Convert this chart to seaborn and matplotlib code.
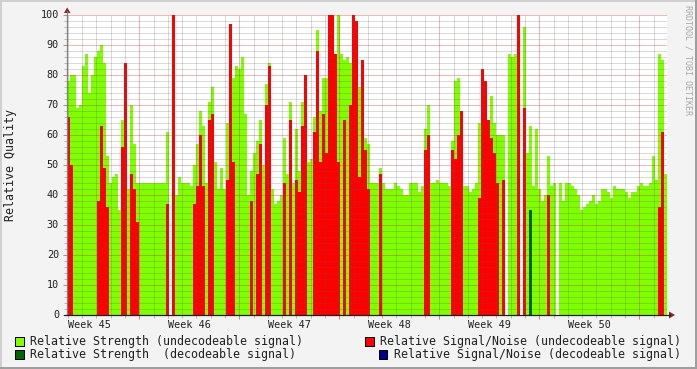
import numpy as np
import pandas as pd
import matplotlib
matplotlib.use("Agg")
import matplotlib.pyplot as plt
import seaborn as sns
from matplotlib.patches import Rectangle, Polygon
from matplotlib.lines import Line2D

# ---------------- data (one sample every 0.21 day, 6 weeks) ----------------
strength_undec = [
    78, 80, 80, 69, 70, 83, 87, 74, 80, 86, 88, 90, 84, 53, 44, 46, 47, 35, 65, 41,
    42, 70, 57, 44, 44, 44, 44, 44, 44, 44, 44, 44, 44, 61, 0, 40, 40, 46, 44, 44,
    44, 43, 50, 57, 68, 63, 44, 71, 76, 51, 42, 49, 42, 64, 81, 79, 83, 82, 86, 67,
    40, 48, 54, 58, 65, 50, 77, 84, 42, 37, 38, 40, 59, 47, 71, 44, 62, 48, 71, 76,
    51, 52, 66, 95, 68, 79, 79, 76, 84, 87, 100, 87, 85, 86, 84, 84, 80, 76, 60, 59,
    57, 44, 44, 44, 49, 44, 42, 42, 42, 44, 43, 42, 40, 40, 44, 44, 44, 41, 43, 62,
    70, 44, 44, 45, 44, 44, 44, 43, 58, 78, 79, 68, 43, 43, 41, 42, 44, 64, 80, 73,
    64, 73, 64, 60, 60, 60, 0, 87, 86, 87, 0, 0, 96, 54, 63, 43, 62, 42, 38, 40,
    53, 43, 44, 0, 44, 38, 44, 44, 43, 42, 40, 35, 36, 37, 38, 40, 37, 38, 42, 42,
    41, 39, 43, 42, 42, 42, 41, 39, 41, 41, 43, 44, 43, 43, 44, 53, 45, 87, 85, 47,
]
snr_undec = [
    66, 50, 0, 0, 0, 0, 0, 0, 0, 0, 38, 63, 49, 36, 0, 0, 0, 0, 56, 84,
    0, 47, 42, 31, 0, 0, 0, 0, 0, 0, 0, 0, 0, 37, 0, 100, 0, 0, 0, 0,
    0, 0, 37, 43, 60, 43, 0, 65, 67, 0, 0, 0, 0, 45, 97, 51, 0, 0, 0, 0,
    0, 38, 0, 47, 57, 0, 70, 83, 0, 0, 0, 0, 44, 0, 65, 0, 45, 41, 63, 80,
    0, 0, 61, 88, 51, 67, 54, 100, 100, 87, 51, 0, 65, 0, 70, 100, 98, 46, 85, 55,
    42, 0, 0, 0, 47, 0, 0, 0, 0, 0, 0, 0, 0, 0, 0, 0, 0, 0, 0, 55,
    60, 0, 0, 0, 0, 0, 0, 0, 55, 52, 60, 68, 0, 0, 0, 0, 0, 39, 82, 78,
    65, 59, 54, 44, 0, 45, 0, 0, 0, 0, 100, 0, 69, 0, 0, 0, 0, 0, 0, 0,
    40, 0, 0, 0, 0, 0, 0, 0, 0, 0, 0, 0, 0, 0, 0, 0, 0, 0, 0, 0,
    0, 0, 0, 0, 0, 0, 0, 0, 0, 0, 0, 0, 0, 0, 0, 0, 0, 36, 61, 0,
]
strength_dec_index = [154]
strength_dec_value = [35]
snr_dec_index = []
snr_dec_value = []

week_labels = ["Week 45", "Week 46", "Week 47", "Week 48", "Week 49", "Week 50"]
y_labels = ["0", "10", "20", "30", "40", "50", "60", "70", "80", "90", "100"]
legend_labels = [
    "Relative Strength (undecodeable signal)",
    "Relative Signal/Noise (undecodeable signal)",
    "Relative Strength  (decodeable signal)",
    "Relative Signal/Noise (decodeable signal)",
]

# ---------------- style ----------------
GREEN = "#7FFF00"
RED = "#FF0000"
DKGREEN = "#006400"
BLUE = "#000090"
BACK = "#F3F3F3"

sns.set_theme(style="white")
plt.rcParams["font.family"] = ["DejaVu Sans Mono"]

W, H, DPI = 697, 369, 100
fig = plt.figure(figsize=(W / DPI, H / DPI), dpi=DPI, facecolor=BACK)

L, R, T, B = 67, 667, 15, 315
ax = fig.add_axes([L / W, 1 - B / H, (R - L) / W, (B - T) / H])
ax.set_facecolor("white")

step = 0.21
n = len(strength_undec)
centers = np.arange(n) * step + step / 2
strength_dec = np.zeros(n)
strength_dec[strength_dec_index] = strength_dec_value
snr_dec = np.zeros(n)
snr_dec[snr_dec_index] = snr_dec_value

df = pd.DataFrame({
    "t": centers,
    "strength_undec": np.asarray(strength_undec, float),
    "snr_undec": np.asarray(snr_undec, float),
    "strength_dec": strength_dec,
    "snr_dec": snr_dec,
})

for col, color, z in [("strength_undec", GREEN, 2), ("snr_undec", RED, 2.1),
                      ("strength_dec", DKGREEN, 2.2), ("snr_dec", BLUE, 2.3)]:
    sns.histplot(data=df, x="t", weights=col, bins=n, binrange=(0, n * step),
                 color=color, alpha=1, linewidth=0, antialiased=False,
                 zorder=z, ax=ax)

ax.set_xlim(0, n * step)
ax.set_ylim(0, 100)
ax.set_xlabel("")
ax.set_ylabel("")
for s in ax.spines.values():
    s.set_visible(False)

# grid (drawn over the data, rrdtool style, dotted)
minor_c = (0.35, 0.35, 0.35, 0.22)
major_c = (0.80, 0.10, 0.10, 0.30)
dash = (0, (1, 1))
for v in range(2, 101, 2):
    ax.axhline(v, color=major_c if v % 10 == 0 else minor_c, lw=0.72, ls=dash,
               zorder=3, antialiased=False)
day0 = 0.06
for d in range(0, 43):
    x = day0 + d
    if x > n * step:
        break
    ax.axvline(x, color=major_c if (d - 5) % 7 == 0 else minor_c, lw=0.72, ls=dash,
               zorder=3, antialiased=False)

ax.set_xticks([day0 + 5 + 7 * k for k in range(6)])
ax.set_xticks([day0 + d for d in range(42)], minor=True)
ax.set_yticks(range(0, 101, 10))
ax.set_yticks(range(0, 101, 2), minor=True)
ax.tick_params(which="both", labelleft=False, labelbottom=False, direction="out")
ax.tick_params(which="major", length=3, width=0.72, color="#D08080")
ax.tick_params(which="minor", length=2, width=0.72, color="#B8B8B8")
ax.tick_params(axis="y", which="both", left=True)
ax.tick_params(axis="x", which="both", bottom=True)

# ---------------- figure-pixel helpers ----------------
def P(x, y):
    return (x / W, 1 - y / H)

def ftext(x, y, s, **kw):
    fig.text(x / W, 1 - y / H, s, **kw)

# axis lines and arrows
fig.add_artist(Line2D([L / W, L / W], [1 - B / H, 1 - 11 / H], color="#808080", lw=0.9))
fig.add_artist(Line2D([64 / W, 670 / W], [1 - B / H, 1 - B / H], color="#202020", lw=0.9))
fig.add_artist(Polygon([P(64, 13), P(70.5, 13), P(67.2, 7.5)], closed=True,
                       facecolor="#8B2020", edgecolor="none"))
fig.add_artist(Polygon([P(669, 311.5), P(669, 318.5), P(675, 315)], closed=True,
                       facecolor="#8B2020", edgecolor="none"))

# tick labels
for i, lab in enumerate(y_labels):
    ypx = B - 30 * i
    ftext(59, ypx + 3.3, lab, ha="right", va="baseline", fontsize=7.3, color="#202020")
for k, lab in enumerate(week_labels):
    xpx = L + (day0 + 1.5 + 7 * k) * (R - L) / (n * step)
    ftext(xpx, 328, lab, ha="center", va="baseline", fontsize=7.3, color="#202020")

# y label and watermark
ftext(11, 165, "Relative Quality", rotation=90, ha="center", va="center",
      fontsize=8.4, color="#202020")
ftext(688, 60, "RRDTOOL / TOBI OETIKER", rotation=270, ha="center", va="center",
      fontsize=6, color="#A8A8A8")

# legend
legend_layout = [  # (square x, text x, baseline y, square top y)
    (15, 29.5, 345, 337),
    (365, 379.5, 345, 337),
    (15, 29.5, 358.3, 350),
    (379, 393.5, 358.3, 350),
]
legend_colors = [GREEN, RED, DKGREEN, BLUE]
for (sx, tx, by, sy), lab, c in zip(legend_layout, legend_labels, legend_colors):
    fig.add_artist(Rectangle(P(sx, sy + 8.5), 8.5 / W, 8.5 / H, facecolor=c,
                             edgecolor="black", lw=0.72))
    ftext(tx, by, lab, ha="left", va="baseline", fontsize=8.4, color="#202020")

# frame shading
fig.add_artist(Rectangle((0, 1 - 2 / H), 1, 2 / H, facecolor="#CFCFCF", edgecolor="none"))
fig.add_artist(Rectangle((0, 0), 2 / W, 1, facecolor="#CFCFCF", edgecolor="none"))
fig.add_artist(Rectangle((0, 0), 1, 2 / H, facecolor="#9E9E9E", edgecolor="none"))
fig.add_artist(Rectangle((1 - 2 / W, 0), 2 / W, 1, facecolor="#9E9E9E", edgecolor="none"))

fig.savefig("out.png", dpi=DPI, facecolor=BACK)
